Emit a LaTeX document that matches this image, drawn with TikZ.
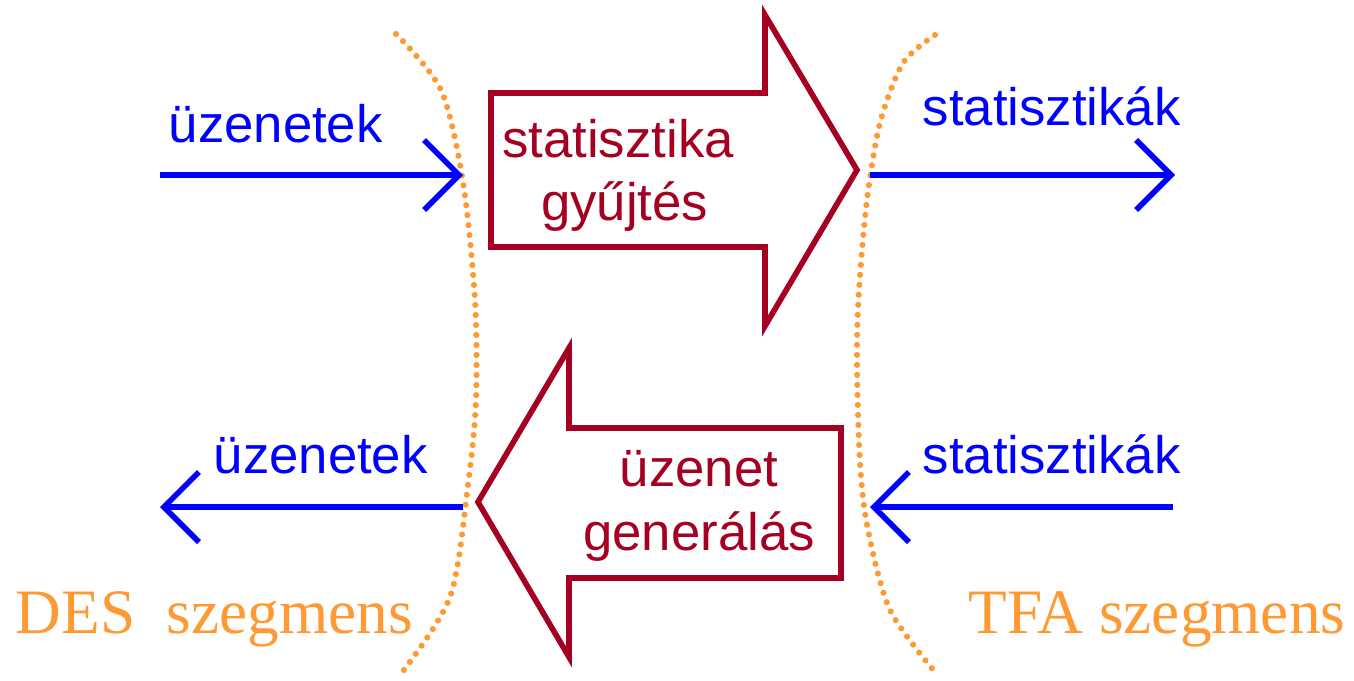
\documentclass[tikz,border=0pt]{standalone}
\usepackage{fontspec}
\setmainfont{Liberation Sans}
\newfontfamily\segfont{Liberation Serif}
\usepackage{tikz}
\usetikzlibrary{arrows.meta}
\definecolor{msgblue}{RGB}{0,0,255}
\definecolor{boxred}{RGB}{165,0,33}
\definecolor{segorange}{RGB}{255,153,51}
\tikzset{msg/.style = {draw = msgblue, line width = 1.6pt,
                       -{Straight Barb[length = 3.5mm, width = 7mm]}}}
\tikzset{msglabel/.style = {text = msgblue, inner sep = 0, anchor = base west,
                            font = \fontsize{15}{18}\selectfont}}
\tikzset{bigarrow/.style = {draw = boxred, line width = 1.6pt}}
\tikzset{boxlabel/.style = {text = boxred, inner sep = 0, align = center,
                            font = \fontsize{15}{18}\selectfont}}
\tikzset{border/.style = {draw = segorange, line width = 1.75pt, line cap = round,
                          dash pattern = on 0pt off 2.85pt}}
\tikzset{seglabel/.style = {text = segorange, inner sep = 0, anchor = base west,
                            font = \segfont\fontsize{18}{20}\selectfont}}

\begin{document}
\begin{tikzpicture}
    \useasboundingbox (0, 0) rectangle (13.54, -6.80);
    % segment borders
    \draw [border] plot [smooth] coordinates {(3.96, -0.34) (4.41, -0.90) (4.63, -1.82)
        (4.75, -3.00) (4.76, -4.00) (4.68, -4.85) (4.50, -5.97) (4.00, -6.75)};
    \draw [border] plot [smooth] coordinates {(9.35, -0.35) (9.03, -0.63) (8.80, -1.23)
        (8.67, -2.00) (8.59, -2.90) (8.57, -3.60) (8.60, -4.63) (8.68, -5.30)
        (8.90, -6.10) (9.35, -6.72)};
    % big arrows
    \draw [bigarrow] (4.91, -0.93) -- (7.65, -0.93) -- (7.65, -0.15) -- (8.57, -1.70)
        -- (7.65, -3.26) -- (7.65, -2.47) -- (4.91, -2.47) -- cycle;
    \node [boxlabel] (collect) at (6.18, -1.75) {statisztika\\\hspace{0.25em}gyűjtés};
    \draw [bigarrow] (8.41, -4.28) -- (5.69, -4.28) -- (5.69, -3.48) -- (4.78, -5.02)
        -- (5.69, -6.57) -- (5.69, -5.78) -- (8.41, -5.78) -- cycle;
    \node [boxlabel] (generate) at (6.99, -5.06) {üzenet\\generálás};
    % message flows
    \coordinate (desin) at (1.60, -1.75);
    \coordinate (desbound) at (4.63, -1.75);
    \coordinate (tfabound) at (8.70, -1.75);
    \coordinate (tfaout) at (11.75, -1.75);
    \draw [msg] (desin) -- (desbound);
    \draw [msg] (tfabound) -- (tfaout);
    \node [msglabel] (msgin) at (1.68, -1.42) {üzenetek};
    \node [msglabel] (statout) at (9.22, -1.25) {statisztikák};
    \coordinate (desbackb) at (4.63, -5.07);
    \coordinate (desout) at (1.60, -5.07);
    \coordinate (tfain) at (11.73, -5.07);
    \coordinate (tfabackb) at (8.70, -5.07);
    \draw [msg] (desbackb) -- (desout);
    \draw [msg] (tfain) -- (tfabackb);
    \node [msglabel] (msgout) at (2.13, -4.73) {üzenetek};
    \node [msglabel] (statin) at (9.22, -4.73) {statisztikák};
    % segment names
    \node [seglabel] (des) at (0.15, -6.33) {DES\ \ szegmens};
    \node [seglabel] (tfa) at (9.68, -6.33) {TFA szegmens};
\end{tikzpicture}
\end{document}
